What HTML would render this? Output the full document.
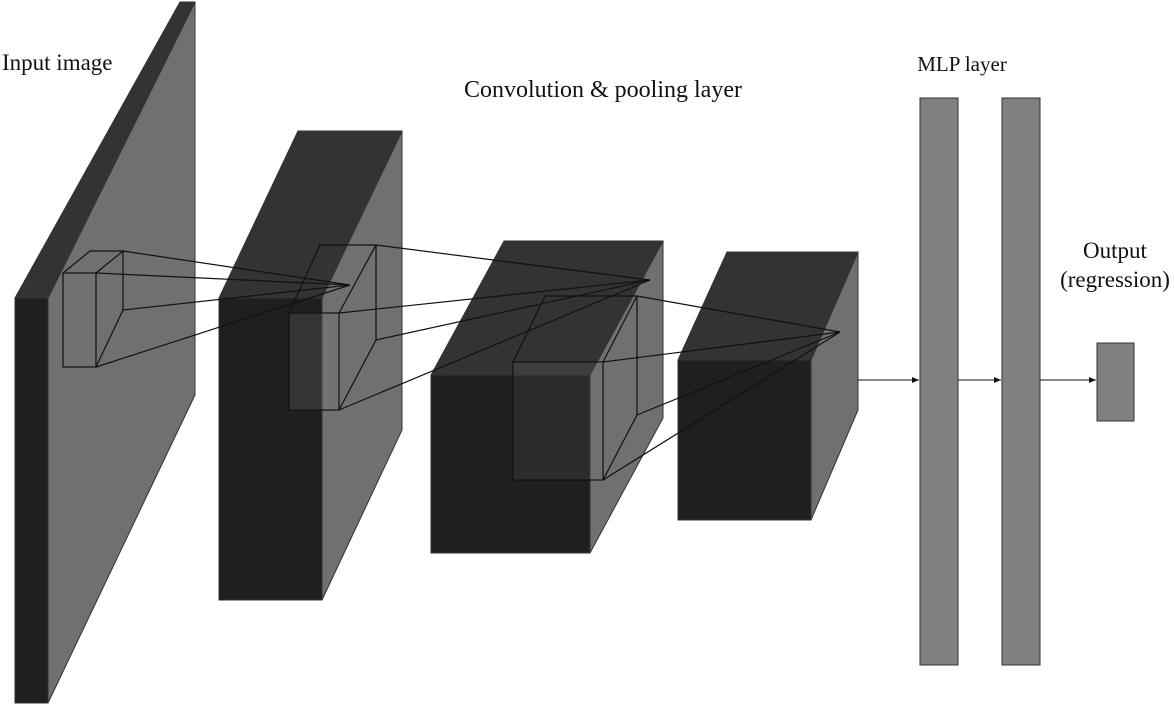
<!DOCTYPE html>
<html><head><style>
html,body{margin:0;padding:0;background:#fff;}
svg{display:block;}
text{font-family:"Liberation Serif",serif;fill:#111;}
</style></head><body>
<svg width="1174" height="706" viewBox="0 0 1174 706">
<defs><marker id="a" markerWidth="8" markerHeight="8" refX="7" refY="3" orient="auto"><path d="M0,0 L7,3 L0,6z" fill="#111"/></marker></defs>
<g stroke="#333" stroke-width="1">
<polygon points="48,298 195,2 195,395 48,703" fill="#707070"/>
<polygon points="15,298 180,2 195,2 48,298" fill="#333"/>
<rect x="15" y="298" width="33" height="405" fill="#1f1f1f"/>
<polygon points="322,298 402,131 402,430 322,600" fill="#707070"/>
<polygon points="219,298 298,131 402,131 322,298" fill="#333"/>
<rect x="219" y="298" width="103" height="302" fill="#1f1f1f"/>
<polygon points="590,375 663,241 663,418 590,553" fill="#707070"/>
<polygon points="431,375 504,241 663,241 590,375" fill="#333"/>
<rect x="431" y="375" width="159" height="178" fill="#1f1f1f"/>
<polygon points="811,360 858,252 858,410 811,520" fill="#707070"/>
<polygon points="678,360 727,252 858,252 811,360" fill="#333"/>
<rect x="678" y="360" width="133" height="160" fill="#1f1f1f"/>
</g>
<g stroke="#111" stroke-width="1.2" fill="none">
<rect x="63" y="273" width="33" height="94"/>
<polyline points="63,273 90,251 123,251 96,273"/>
<polyline points="123,251 123,310 96,367"/>
<line x1="123" y1="251" x2="350" y2="285"/>
<line x1="96" y1="273" x2="350" y2="285"/>
<line x1="123" y1="310" x2="350" y2="285"/>
<line x1="96" y1="367" x2="350" y2="285"/>
<rect x="289" y="313" width="50" height="97" fill="rgba(120,120,120,0.25)"/>
<polyline points="289,313 320,245 376,245 339,313"/>
<polyline points="376,245 376,340 339,410"/>
<line x1="376" y1="245" x2="650" y2="280"/>
<line x1="339" y1="313" x2="650" y2="280"/>
<line x1="376" y1="340" x2="650" y2="280"/>
<line x1="339" y1="410" x2="650" y2="280"/>
<rect x="513" y="362" width="90" height="118" fill="rgba(120,120,120,0.15)"/>
<polyline points="513,362 545,296 637,296 603,362"/>
<polyline points="637,296 637,415 603,480"/>
<line x1="637" y1="296" x2="840" y2="332"/>
<line x1="603" y1="362" x2="840" y2="332"/>
<line x1="637" y1="415" x2="840" y2="332"/>
<line x1="603" y1="480" x2="840" y2="332"/>
</g>
<g stroke="#333" stroke-width="1" fill="#808080">
<rect x="920" y="98" width="38" height="567"/>
<rect x="1002" y="98" width="38" height="567"/>
<rect x="1097" y="343" width="37" height="78"/>
</g>
<g stroke="#111" stroke-width="1" marker-end="url(#a)">
<line x1="858" y1="380" x2="919" y2="380"/>
<line x1="958" y1="380" x2="1001" y2="380"/>
<line x1="1040" y1="380" x2="1096" y2="380"/>
</g>
<text x="2" y="70" font-size="23">Input image</text>
<text x="603" y="97" font-size="24" text-anchor="middle">Convolution &amp; pooling layer</text>
<text x="962" y="71" font-size="21" text-anchor="middle">MLP layer</text>
<text x="1115" y="258" font-size="23" text-anchor="middle">Output</text>
<text x="1115" y="287" font-size="23" text-anchor="middle">(regression)</text>
</svg>
</body></html>
